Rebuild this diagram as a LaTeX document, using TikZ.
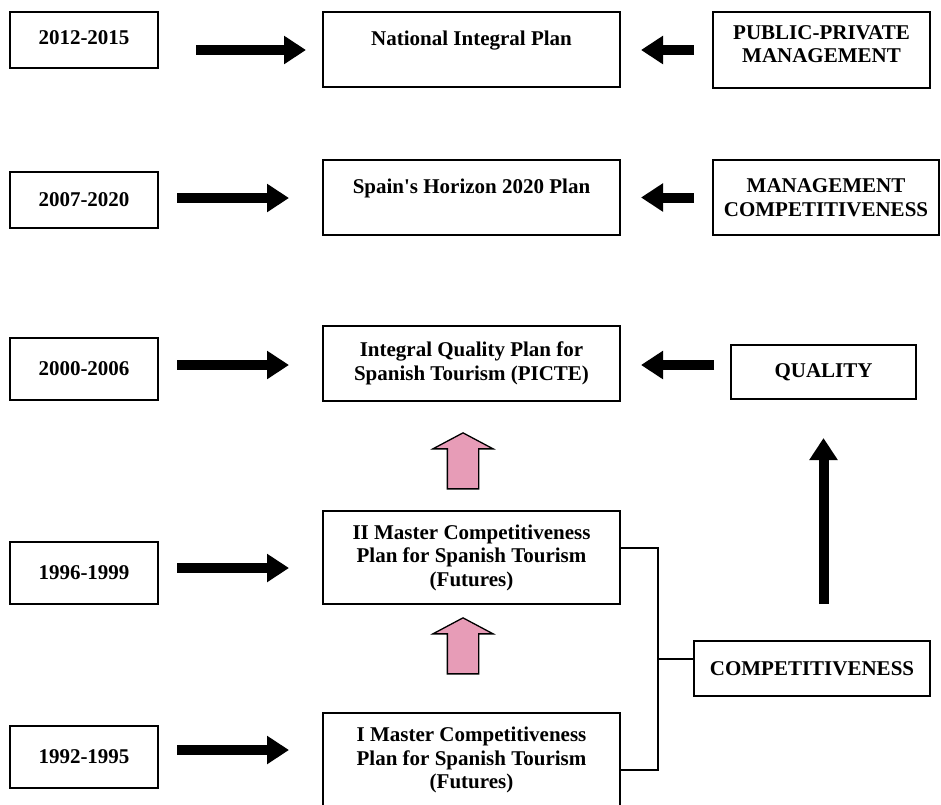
\documentclass[tikz,border=0pt]{standalone}
\usepackage{fontspec}
\setmainfont{Liberation Serif}
\usetikzlibrary{arrows.meta,shapes.arrows,calc}
\definecolor{plpink}{RGB}{231,156,183}

\begin{document}
\begin{tikzpicture}[
  x=1pt, y=-1pt,
  font=\fontsize{21}{23.5}\selectfont\bfseries,
  box/.style={draw, line width=2pt, align=center, inner sep=2pt},
  yr/.style={box, minimum width=148pt, minimum height=56pt},
  plan/.style={box, minimum width=297pt, minimum height=75pt},
  fat/.style={line width=10pt, -{Triangle[length=22pt, width=27pt]}},
  link/.style={line width=2pt},
  push/.style={single arrow, draw, line width=1.3pt, fill=plpink, rotate=90,
    minimum height=56pt, minimum width=59pt, inner xsep=0pt, inner ysep=15pt,
    single arrow head extend=14.5pt, single arrow tip angle=124}
]
\useasboundingbox (0,0) rectangle (941,804);

% 2012-2015
\node[yr] (y1) at (84,40) {\raisebox{5pt}{2012-2015}};
\node[plan] (nip) at (471.5,49.5) {National Integral Plan\\\mbox{}};
\node[box, minimum width=217pt, minimum height=76pt] (ppm) at (821.5,50)
  {PUBLIC-PRIVATE\\MANAGEMENT\\[-12pt]\mbox{}};
\draw[fat, shorten <=37pt, shorten >=16pt] ([yshift=-10pt]y1.east) -- ([yshift=-10pt]y1.east -| nip.west);
\draw[fat, shorten <=18pt, shorten >=20pt] (ppm.west) -- (ppm.west -| nip.east);

% 2007-2020
\node[yr] (y2) at (84,200) {2007-2020};
\node[plan] (hor) at (471.5,197.5) {Spain\textquotesingle s Horizon 2020 Plan\\\mbox{}};
\node[box, minimum width=226pt, minimum height=75pt] (mgc) at (826,197.5)
  {MANAGEMENT\\COMPETITIVENESS};
\draw[fat, shorten <=18pt, shorten >=33pt] ([yshift=2pt]y2.east) -- ([yshift=2pt]y2.east -| hor.west);
\draw[fat, shorten <=18pt, shorten >=20pt] (mgc.west) -- (mgc.west -| hor.east);

% 2000-2006
\node[yr, minimum height=62pt] (y3) at (84,369) {2000-2006};
\node[plan] (picte) at (471.5,363.5) {Integral Quality Plan for\\Spanish Tourism (PICTE)};
\node[box, minimum width=185pt, minimum height=54pt] (qual) at (823.5,372) {QUALITY};
\draw[fat, shorten <=18pt, shorten >=33pt] ([yshift=4pt]y3.east) -- ([yshift=4pt]y3.east -| picte.west);
\draw[fat, shorten <=16pt, shorten >=20pt] ([yshift=7pt]qual.west) -- ([yshift=7pt]qual.west -| picte.east);

% 1996-1999
\node[yr, minimum height=62pt] (y4) at (84,573) {1996-1999};
\node[plan, minimum height=93pt] (m2) at (471.5,557.5)
  {II Master Competitiveness\\Plan for Spanish Tourism\\(Futures)};
\draw[fat, shorten <=18pt, shorten >=33pt] ([yshift=5pt]y4.east) -- ([yshift=5pt]y4.east -| m2.west);

% 1992-1995
\node[yr, minimum height=62pt] (y5) at (84,757) {1992-1995};
\node[plan, minimum height=94pt] (m1) at (471.5,760)
  {I Master Competitiveness\\Plan for Spanish Tourism\\(Futures)};
\draw[fat, shorten <=18pt, shorten >=33pt] ([yshift=7pt]y5.east) -- ([yshift=7pt]y5.east -| m1.west);

% competitiveness
\node[box, minimum width=236pt, minimum height=55pt] (comp) at (812,668.5) {COMPETITIVENESS};
\coordinate (jn) at (658,659);
\draw[link] ([yshift=9.5pt]m2.east) -| (jn) |- ([yshift=-10pt]m1.east);
\draw[link] (jn) -- (jn -| comp.west);
\draw[fat, shorten <=36pt, shorten >=38pt] (qual.south |- comp.north) -- (qual.south);

% pink arrows
\node[push] (up1) at (463,465) {};
\node[push] (up2) at (463,650) {};
\end{tikzpicture}
\end{document}
